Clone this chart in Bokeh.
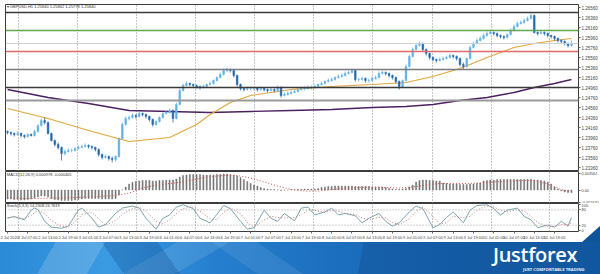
from bokeh.plotting import figure
from bokeh.models import Range1d, FixedTicker, Span, Label, Div, Grid
from bokeh.layouts import column
from bokeh.embed import file_html
from bokeh.resources import INLINE

FONT = "Liberation Sans"

# ---------------- data (GBPUSD, H1) ----------------
opens = [
 1.2408,1.2406,1.2404,1.2402,1.2404,1.2400,1.2398,1.2402,1.2400,1.2408,
 1.2420,1.2430,1.2426,1.2404,1.2390,1.2382,1.2376,1.2364,1.2368,1.2370,
 1.2370,1.2374,1.2376,1.2378,1.2380,1.2378,1.2376,1.2372,1.2362,1.2356,
 1.2358,1.2354,1.2352,1.2358,1.2394,1.2422,1.2434,1.2436,1.2440,1.2438,
 1.2444,1.2442,1.2438,1.2432,1.2422,1.2428,1.2436,1.2444,1.2446,1.2450,
 1.2434,1.2462,1.2490,1.2500,1.2504,1.2502,1.2500,1.2498,1.2496,1.2498,
 1.2502,1.2504,1.2510,1.2516,1.2522,1.2530,1.2532,1.2530,1.2520,1.2502,
 1.2494,1.2492,1.2494,1.2494,1.2494,1.2492,1.2494,1.2492,1.2490,1.2492,
 1.2490,1.2496,1.2480,1.2482,1.2484,1.2486,1.2488,1.2492,1.2494,1.2494,
 1.2496,1.2496,1.2498,1.2502,1.2504,1.2508,1.2510,1.2512,1.2516,1.2518,
 1.2520,1.2524,1.2526,1.2530,1.2512,1.2512,1.2514,1.2510,1.2510,1.2514,
 1.2516,1.2524,1.2526,1.2524,1.2520,1.2516,1.2508,1.2498,1.2510,1.2538,
 1.2558,1.2572,1.2580,1.2584,1.2572,1.2564,1.2556,1.2552,1.2550,1.2552,
 1.2554,1.2556,1.2560,1.2558,1.2554,1.2542,1.2538,1.2554,1.2576,1.2584,
 1.2590,1.2594,1.2600,1.2604,1.2606,1.2604,1.2600,1.2598,1.2596,1.2602,
 1.2610,1.2618,1.2624,1.2626,1.2630,1.2634,1.2640,1.2606,1.2604,1.2606,
 1.2604,1.2600,1.2598,1.2594,1.2590,1.2588,1.2584,1.2580]
highs = [
 1.2410,1.2408,1.2406,1.2408,1.2406,1.2402,1.2404,1.2404,1.2412,1.2422,
 1.2434,1.2436,1.2428,1.2406,1.2392,1.2386,1.2378,1.2372,1.2374,1.2374,
 1.2376,1.2380,1.2382,1.2384,1.2382,1.2380,1.2378,1.2374,1.2364,1.2362,
 1.2360,1.2358,1.2360,1.2396,1.2426,1.2438,1.2440,1.2444,1.2442,1.2448,
 1.2446,1.2444,1.2440,1.2434,1.2430,1.2438,1.2446,1.2450,1.2454,1.2452,
 1.2466,1.2494,1.2504,1.2508,1.2506,1.2504,1.2502,1.2500,1.2502,1.2504,
 1.2508,1.2512,1.2518,1.2526,1.2534,1.2536,1.2534,1.2532,1.2522,1.2504,
 1.2496,1.2498,1.2498,1.2496,1.2496,1.2498,1.2496,1.2494,1.2496,1.2494,
 1.2500,1.2498,1.2486,1.2488,1.2490,1.2492,1.2494,1.2498,1.2498,1.2500,
 1.2500,1.2502,1.2504,1.2508,1.2510,1.2514,1.2516,1.2518,1.2522,1.2524,
 1.2528,1.2530,1.2534,1.2532,1.2516,1.2518,1.2516,1.2514,1.2518,1.2520,
 1.2528,1.2530,1.2528,1.2526,1.2522,1.2518,1.2510,1.2512,1.2542,1.2562,
 1.2576,1.2584,1.2588,1.2586,1.2574,1.2566,1.2558,1.2554,1.2556,1.2558,
 1.2560,1.2564,1.2562,1.2560,1.2556,1.2546,1.2556,1.2580,1.2588,1.2594,
 1.2598,1.2604,1.2608,1.2610,1.2608,1.2606,1.2602,1.2600,1.2604,1.2614,
 1.2622,1.2628,1.2630,1.2634,1.2638,1.2644,1.2642,1.2608,1.2610,1.2608,
 1.2606,1.2602,1.2600,1.2596,1.2592,1.2590,1.2586,1.2590]
lows = [
 1.2402,1.2400,1.2398,1.2400,1.2396,1.2394,1.2396,1.2398,1.2398,1.2406,
 1.2418,1.2422,1.2402,1.2388,1.2378,1.2372,1.2350,1.2360,1.2366,1.2366,
 1.2368,1.2372,1.2374,1.2376,1.2374,1.2372,1.2368,1.2358,1.2352,1.2354,
 1.2350,1.2346,1.2348,1.2356,1.2392,1.2420,1.2430,1.2434,1.2434,1.2436,
 1.2438,1.2434,1.2428,1.2418,1.2420,1.2426,1.2434,1.2442,1.2444,1.2426,
 1.2432,1.2460,1.2488,1.2498,1.2498,1.2496,1.2494,1.2492,1.2494,1.2496,
 1.2500,1.2502,1.2508,1.2514,1.2520,1.2526,1.2526,1.2516,1.2498,1.2490,
 1.2488,1.2490,1.2490,1.2490,1.2488,1.2490,1.2488,1.2486,1.2488,1.2486,
 1.2488,1.2476,1.2478,1.2480,1.2482,1.2484,1.2486,1.2490,1.2490,1.2492,
 1.2492,1.2494,1.2496,1.2500,1.2502,1.2506,1.2508,1.2510,1.2514,1.2516,
 1.2518,1.2522,1.2524,1.2508,1.2508,1.2510,1.2506,1.2506,1.2508,1.2512,
 1.2514,1.2522,1.2520,1.2516,1.2512,1.2504,1.2492,1.2496,1.2508,1.2536,
 1.2556,1.2570,1.2578,1.2568,1.2560,1.2552,1.2548,1.2546,1.2548,1.2550,
 1.2552,1.2554,1.2554,1.2550,1.2538,1.2532,1.2536,1.2552,1.2574,1.2582,
 1.2588,1.2592,1.2598,1.2602,1.2600,1.2596,1.2594,1.2592,1.2594,1.2600,
 1.2608,1.2616,1.2622,1.2624,1.2628,1.2632,1.2604,1.2600,1.2602,1.2600,
 1.2596,1.2594,1.2590,1.2586,1.2584,1.2580,1.2576,1.2578]
closes = [
 1.2406,1.2404,1.2402,1.2404,1.2400,1.2398,1.2402,1.2400,1.2408,1.2420,
 1.2430,1.2426,1.2404,1.2390,1.2382,1.2376,1.2364,1.2368,1.2370,1.2370,
 1.2374,1.2376,1.2378,1.2380,1.2378,1.2376,1.2372,1.2362,1.2356,1.2358,
 1.2354,1.2352,1.2358,1.2394,1.2422,1.2434,1.2436,1.2440,1.2438,1.2444,
 1.2442,1.2438,1.2432,1.2422,1.2428,1.2436,1.2444,1.2446,1.2450,1.2434,
 1.2462,1.2490,1.2500,1.2504,1.2502,1.2500,1.2498,1.2496,1.2498,1.2502,
 1.2504,1.2510,1.2516,1.2522,1.2530,1.2532,1.2530,1.2520,1.2502,1.2494,
 1.2492,1.2494,1.2494,1.2494,1.2492,1.2494,1.2492,1.2490,1.2492,1.2490,
 1.2496,1.2480,1.2482,1.2484,1.2486,1.2488,1.2492,1.2494,1.2494,1.2496,
 1.2496,1.2498,1.2502,1.2504,1.2508,1.2510,1.2512,1.2516,1.2518,1.2520,
 1.2524,1.2526,1.2530,1.2512,1.2512,1.2514,1.2510,1.2510,1.2514,1.2516,
 1.2524,1.2526,1.2524,1.2520,1.2516,1.2508,1.2498,1.2510,1.2538,1.2558,
 1.2572,1.2580,1.2584,1.2572,1.2564,1.2556,1.2552,1.2550,1.2552,1.2554,
 1.2556,1.2560,1.2558,1.2554,1.2542,1.2538,1.2554,1.2576,1.2584,1.2590,
 1.2594,1.2600,1.2604,1.2606,1.2604,1.2600,1.2598,1.2596,1.2602,1.2610,
 1.2618,1.2624,1.2626,1.2630,1.2634,1.2640,1.2606,1.2604,1.2606,1.2604,
 1.2600,1.2598,1.2594,1.2590,1.2588,1.2584,1.2580,1.2584]

# moving averages (read at sample bars)
ma_fast_bars = [0, 12, 24, 36, 48, 56, 60, 66, 72, 84, 96, 108, 118, 126, 134, 142, 150, 156, 162, 167]
ma_fast = [1.2454, 1.2434, 1.2410, 1.2388, 1.2396, 1.2422, 1.2442, 1.2466, 1.2480, 1.2492,
           1.2498, 1.2502, 1.2506, 1.2518, 1.2534, 1.2556, 1.2576, 1.2584, 1.2590, 1.2594]
ma_slow_bars = [0, 12, 24, 36, 48, 60, 72, 84, 96, 108, 118, 126, 134, 142, 150, 156, 162, 167]
ma_slow = [1.2492, 1.2476, 1.2464, 1.2450, 1.2448, 1.2446, 1.2448, 1.2450, 1.2452, 1.2456,
           1.2458, 1.2462, 1.2470, 1.2476, 1.2486, 1.2496, 1.2504, 1.2512]

# horizontal levels
level_prices = [1.2646, 1.2610, 1.2568, 1.2532, 1.2496, 1.2470]
level_colors = ["#3a3a3a", "#5fa552", "#e26a6a", "#7a7a7a", "#3a3a3a", "#9a9a9a"]
level_widths = [1.5, 1.5, 1.5, 1.5, 1.5, 2.0]
bid_price = 1.2584

price_ticks = [1.2656, 1.2636, 1.2616, 1.2596, 1.2576, 1.2556, 1.2536, 1.2516, 1.2496,
               1.2476, 1.2456, 1.2436, 1.2416, 1.2396, 1.2376, 1.2356, 1.2336]

# MACD(12,26,9)
macd_hist = [
 -0.0018,-0.0018,-0.0019,-0.0019,-0.0020,-0.0020,-0.0019,-0.0018,-0.0016,-0.0014,
 -0.0012,-0.0012,-0.0014,-0.0017,-0.0019,-0.0020,-0.0021,-0.0021,-0.0021,-0.0021,
 -0.0020,-0.0019,-0.0018,-0.0017,-0.0017,-0.0017,-0.0017,-0.0017,-0.0018,-0.0018,
 -0.0018,-0.0018,-0.0017,-0.0010,0.0000,0.0006,0.0012,0.0015,0.0017,0.0018,
 0.0019,0.0019,0.0019,0.0018,0.0018,0.0019,0.0019,0.0020,0.0020,0.0020,
 0.0022,0.0026,0.0029,0.0030,0.0031,0.0031,0.0031,0.0031,0.0030,0.0030,
 0.0030,0.0030,0.0031,0.0031,0.0032,0.0032,0.0031,0.0030,0.0028,0.0025,
 0.0021,0.0017,0.0013,0.0010,0.0008,0.0005,0.0003,0.0002,0.0001,0.0001,
 0.0000,-0.0001,0.0000,0.0000,0.0001,0.0001,0.0001,0.0001,0.0002,0.0002,
 0.0002,0.0002,0.0003,0.0005,0.0006,0.0007,0.0007,0.0008,0.0008,0.0008,
 0.0008,0.0008,0.0008,0.0007,0.0007,0.0007,0.0007,0.0007,0.0006,0.0006,
 0.0006,0.0006,0.0005,0.0003,0.0002,0.0001,0.0001,0.0002,0.0003,0.0006,
 0.0010,0.0016,0.0019,0.0020,0.0020,0.0019,0.0019,0.0018,0.0018,0.0014,
 0.0013,0.0012,0.0012,0.0012,0.0011,0.0011,0.0011,0.0012,0.0012,0.0013,
 0.0014,0.0018,0.0019,0.0020,0.0020,0.0021,0.0021,0.0021,0.0021,0.0021,
 0.0021,0.0021,0.0021,0.0021,0.0021,0.0021,0.0020,0.0020,0.0019,0.0018,
 0.0016,0.0012,0.0006,0.0002,-0.0002,-0.0004,-0.0005,-0.0005]
macd_sig_bars = [0, 8, 16, 24, 32, 36, 40, 44, 48, 52, 56, 60, 64, 68, 72, 76, 80, 84, 88, 92,
                 96, 100, 104, 108, 112, 116, 120, 124, 128, 132, 136, 140, 144, 148, 152, 156,
                 160, 164, 167]
macd_signal = [-0.0016, -0.0017, -0.0016, -0.0014, -0.0011, -0.0006, 0.0004, 0.0010, 0.0013,
               0.0016, 0.0022, 0.0027, 0.0029, 0.0029, 0.0024, 0.0016, 0.0008, 0.0001, -0.0002,
               -0.0002, 0.0001, 0.0003, 0.0005, 0.0006, 0.0005, 0.0004, 0.0006, 0.0010, 0.0013,
               0.0013, 0.0013, 0.0014, 0.0016, 0.0018, 0.0019, 0.0019, 0.0012, 0.0001, -0.0004]
macd_ticks = [0.0034, 0.0, -0.0024]
macd_tick_labels = ["0.003562", "0.00", "-0.002470"]

# Stochastic(5,3,3)
stoch_bars = [0, 2, 5, 7, 8, 9, 11, 13, 16, 18, 21, 22, 25, 27, 29, 32, 34, 37, 39, 41,
              44, 46, 48, 50, 52, 55, 57, 60, 62, 64, 66, 69, 71, 73, 76, 78, 80, 82, 85, 87,
              89, 91, 94, 96, 98, 100, 103, 105, 107, 110, 112, 114, 116, 119, 121, 123, 126,
              128, 130, 132, 135, 137, 139, 142, 144, 146, 148, 151, 153, 155, 157, 160, 162,
              164, 166, 167]
stoch_main = [47, 54, 41, 79, 87, 82, 35, 12, 8, 16, 79, 87, 47, 12, 22, 66, 87, 95, 87, 47,
              4, 47, 60, 91, 100, 85, 47, 29, 62, 97, 85, 35, 4, 10, 79, 47, 35, 66, 37, 87,
              91, 60, 72, 87, 60, 66, 57, 29, 47, 66, 35, 16, 29, 72, 95, 85, 10, 22, 50, 72,
              29, 79, 97, 100, 85, 60, 79, 87, 54, 41, 10, 20, 12, 35, 16, 50]
stoch_signal = [50, 50, 46, 58, 68, 78, 65, 38, 15, 12, 45, 62, 70, 45, 20, 38, 62, 85, 90, 75,
                35, 25, 40, 65, 85, 92, 75, 45, 42, 70, 88, 65, 30, 12, 40, 55, 50, 48, 50, 60,
                80, 78, 70, 78, 75, 65, 62, 48, 42, 50, 48, 30, 22, 45, 75, 90, 55, 25, 30, 55,
                50, 55, 80, 95, 92, 78, 72, 80, 75, 55, 30, 15, 15, 22, 22, 30]
stoch_levels = [80, 20]
stoch_ticks = [100, 80, 20, 0]

# time axis
grid_bars = [3.3, 20.8, 38.2, 55.7, 73.2, 90.6, 108.1, 125.8, 143.3, 160.5]
label_bars = [0, 6, 12, 18, 24, 30, 36, 42, 48, 54, 60, 66, 72, 78, 84, 90, 96, 102, 108, 114,
              120, 126, 132, 138, 144, 150, 156, 162]
time_labels = ["2 Jul 2020", "2 Jul 07:00", "2 Jul 13:00", "2 Jul 19:00", "3 Jul 01:00",
               "3 Jul 07:00", "3 Jul 13:00", "3 Jul 19:00", "6 Jul 01:00", "6 Jul 07:00",
               "6 Jul 13:00", "6 Jul 19:00", "7 Jul 01:00", "7 Jul 07:00", "7 Jul 13:00",
               "7 Jul 19:00", "8 Jul 01:00", "8 Jul 07:00", "8 Jul 13:00", "8 Jul 19:00",
               "9 Jul 01:00", "9 Jul 07:00", "9 Jul 13:00", "9 Jul 19:00", "10 Jul 01:00",
               "10 Jul 07:00", "10 Jul 13:00", "10 Jul 19:00"]

# ---------------- figures ----------------
bars = list(range(len(closes)))
BULL = "#62b1e6"
BEAR = "#2468ad"
colors = [BULL if c >= o else BEAR for o, c in zip(opens, closes)]
body_top = [max(o, c) for o, c in zip(opens, closes)]
body_bot = [min(o, c) for o, c in zip(opens, closes)]

xr = Range1d(-0.6, 169.1)
FRAME_W = 573


def make_fig(frame_h, yr, top=0, bottom=0, xaxis=False):
    f = figure(width=600, height=top + frame_h + bottom, frame_width=FRAME_W, frame_height=frame_h,
               x_range=xr, y_range=yr, output_backend="svg", toolbar_location=None,
               x_axis_location="below" if xaxis else None, y_axis_location="right",
               min_border_left=5, min_border_right=22, min_border_top=top, min_border_bottom=bottom)
    f.background_fill_color = "white"
    f.border_fill_color = "white"
    f.outline_line_color = "#3c3c3c"
    f.outline_line_width = 1
    for g in f.grid:
        g.visible = False
    f.add_layout(Grid(dimension=0, ticker=FixedTicker(ticks=grid_bars),
                      grid_line_color="#8c8c8c", grid_line_dash="1 2", grid_line_width=1))
    ax = f.yaxis[0]
    ax.axis_line_color = None
    ax.major_tick_line_color = "#666"
    ax.major_tick_out = 2
    ax.major_tick_in = 0
    ax.minor_tick_line_color = None
    ax.major_label_text_font_size = "4.5px"
    ax.major_label_text_font = FONT
    ax.major_label_text_color = "#444"
    ax.major_label_standoff = 1
    return f


def small_label(f, x, y, text, size="4px"):
    lab = Label(x=x, y=y, text=text, text_font=FONT, text_font_size=size,
                text_color="#333", text_baseline="middle")
    f.add_layout(lab)
    return lab


# ---- price panel ----
p = make_fig(167, Range1d(1.2328, 1.2662), top=4)
p.yaxis[0].ticker = FixedTicker(ticks=price_ticks)
p.yaxis[0].major_label_overrides = {t: f"{t:.5f}" for t in price_ticks}

for lp, lc, lw in zip(level_prices, level_colors, level_widths):
    p.add_layout(Span(location=lp, dimension="width", line_color=lc, line_width=lw))
p.add_layout(Span(location=bid_price, dimension="width", line_color="#d0d0d0", line_width=1))

p.line(ma_slow_bars, ma_slow, line_color="#4b2060", line_width=1.3)
p.line(ma_fast_bars, ma_fast, line_color="#e3a53a", line_width=1.1)
p.segment(x0=bars, y0=lows, x1=bars, y1=highs, line_color=colors, line_width=0.8)
p.vbar(x=bars, top=body_top, bottom=body_bot, width=0.5, fill_color=colors, line_color=colors,
       line_width=0.5)

small_label(p, -0.2, 1.26575, "\u25be GBPUSD,H1  1.25840 1.25862 1.25778 1.25840")

box_colors = ["#1e1e1e", "#3f8f3a", "#1e1e1e", "#e04848", "#1e1e1e", "#1e1e1e", "#1e1e1e"]
box_levels = [level_prices[0], level_prices[1], bid_price, level_prices[2],
              level_prices[3], level_prices[4], level_prices[5]]
for bl, bc in zip(box_levels, box_colors):
    p.add_layout(Label(x=579, y=bl, x_units="screen", y_units="data", text=f"{bl:.5f}",
                       text_font=FONT, text_font_size="4.5px", text_color="white",
                       text_baseline="middle", background_fill_color=bc,
                       background_fill_alpha=1.0))

# ---- MACD panel ----
m = make_fig(32, Range1d(-0.0027, 0.0037))
m.yaxis[0].ticker = FixedTicker(ticks=macd_ticks)
m.yaxis[0].major_label_overrides = {t: s for t, s in zip(macd_ticks, macd_tick_labels)}
m.yaxis[0].major_label_text_font_size = "3.8px"
m.vbar(x=bars, top=macd_hist, bottom=0, width=0.3, fill_color="#707070", line_color="#707070",
       line_width=0.5)
m.line(macd_sig_bars, macd_signal, line_color="#d05050", line_width=1, line_dash="1 2")
small_label(m, -0.2, 0.0032, "MACD(12,26,9) 0.000978 -0.000405")

# ---- Stochastic panel ----
s = make_fig(28, Range1d(-5, 105), bottom=10, xaxis=True)
s.yaxis[0].ticker = FixedTicker(ticks=stoch_ticks)
s.yaxis[0].major_label_text_font_size = "4px"
for lv in stoch_levels:
    s.add_layout(Span(location=lv, dimension="width", line_color="#a0a0a0", line_width=1,
                      line_dash="1 2"))
s.line(stoch_bars, stoch_main, line_color="#7aa6b0", line_width=1)
s.line(stoch_bars, stoch_signal, line_color="#c87878", line_width=1, line_dash="1 2")
small_label(s, -0.2, 97, "Stoch(5,3,3) 14.2308 24.7619")
xa = s.xaxis[0]
xa.ticker = FixedTicker(ticks=label_bars)
xa.major_label_overrides = {b: t for b, t in zip(label_bars, time_labels)}
xa.major_label_text_align = "left"
xa.major_label_text_font_size = "4px"
xa.major_label_text_font = FONT
xa.major_label_text_color = "#444"
xa.major_label_standoff = 1
xa.axis_line_color = None
xa.major_tick_out = 2
xa.major_tick_in = 0
xa.major_tick_line_color = "#666"
xa.minor_tick_line_color = None

# ---- banner ----
banner_html = """
<div style="position:relative;width:600px;height:33px;">
 <div style="position:absolute;left:582px;top:-16px;width:18px;height:16px;background:#0f5499;
   clip-path:polygon(100% 0, 100% 100%, 0 100%);"></div>
 <div style="position:absolute;left:0;top:0;width:600px;height:33px;
  background:
   linear-gradient(120deg, transparent 0 9%, rgba(255,255,255,0.16) 9% 17%, transparent 17%),
   linear-gradient(55deg, transparent 0 20%, rgba(0,40,100,0.20) 20% 29%, transparent 29%),
   linear-gradient(150deg, transparent 0 27%, rgba(255,255,255,0.10) 27% 35%, transparent 35%),
   linear-gradient(35deg, transparent 0 40%, rgba(255,255,255,0.08) 40% 47%, transparent 47%),
   linear-gradient(100deg, transparent 0 60%, rgba(0,30,80,0.16) 60%),
   linear-gradient(90deg, #2b8ad6 0%, #3a9ae2 18%, #2680cf 35%, #1c6fbe 55%, #1766b4 75%, #1462ae 100%);
  font-family:'Open Sans',sans-serif;">
  <div style="position:absolute;left:493px;top:3px;color:#ffffff;font-size:20px;font-weight:600;
    letter-spacing:-0.3px;line-height:20px;white-space:nowrap;">Justforex</div>
  <div style="position:absolute;left:523px;top:25px;color:#e6f0fa;font-size:4.2px;font-weight:700;
    line-height:5px;white-space:nowrap;">JUST COMFORTABLE TRADING</div>
 </div>
</div>
"""
banner = Div(text=banner_html, width=600, height=33, margin=(0, 0, 0, 0))

layout = column(p, m, s, banner, spacing=0)
open("out.html", "w").write(file_html(layout, INLINE))
